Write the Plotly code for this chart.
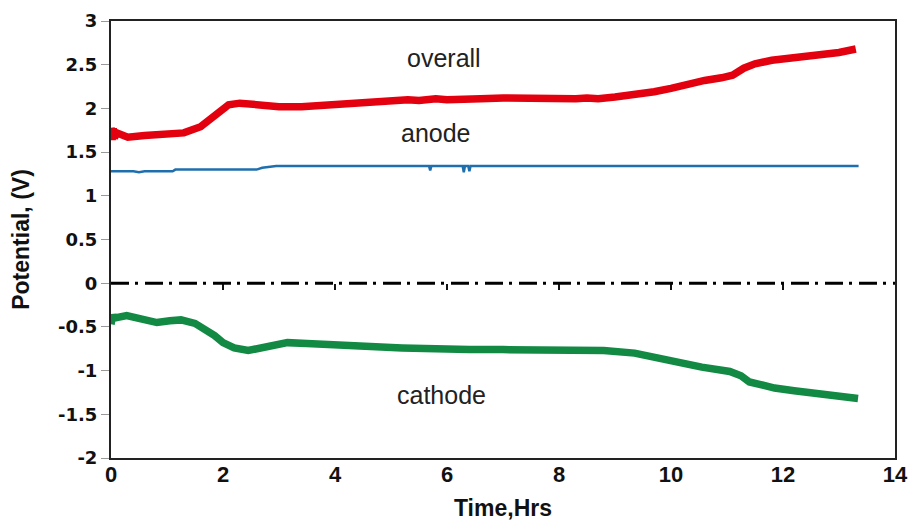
import plotly.graph_objects as go

# Elapsed time (hrs) and potential (V) for each electrode trace
overall_t = [0, 0.02, 0.04, 0.06, 0.1, 0.3, 0.6, 1.0, 1.3, 1.6, 1.9, 2.1, 2.3, 2.6, 3.0, 3.4,
             4.0, 4.6, 5.0, 5.3, 5.5, 5.8, 6.0, 6.2, 6.6, 7.0, 7.5, 8.0, 8.3, 8.5, 8.7,
             9.0, 9.35, 9.7, 10.0, 10.3, 10.6, 10.9, 11.1, 11.3, 11.5, 11.8, 12.1, 12.4, 12.7,
             13.0, 13.3]
overall_v = [1.78, 1.64, 1.77, 1.66, 1.72, 1.67, 1.69, 1.71, 1.72, 1.79, 1.95, 2.04, 2.06, 2.04,
             2.02, 2.02, 2.05, 2.08, 2.08, 2.10, 2.09, 2.11, 2.10, 2.11, 2.11, 2.12, 2.11, 2.10,
             2.11, 2.12, 2.11, 2.13, 2.15, 2.19, 2.23, 2.28, 2.32, 2.35, 2.38, 2.46, 2.51,
             2.55, 2.57, 2.60, 2.61, 2.64, 2.68]

anode_t = [0, 0.4, 0.5, 0.6, 1.1, 1.15, 2.6, 2.7, 2.95, 5.68, 5.7, 5.72, 6.28, 6.3, 6.32,
           6.38, 6.4, 6.42, 13.35]
anode_v = [1.28, 1.28, 1.27, 1.28, 1.28, 1.30, 1.30, 1.32, 1.34, 1.34, 1.29, 1.34, 1.34,
           1.27, 1.34, 1.34, 1.28, 1.34, 1.34]

cathode_t = [0, 0.03, 0.05, 0.28, 0.55, 0.82, 1.05, 1.25, 1.5, 1.7, 1.85, 2.0, 2.2, 2.45, 2.8,
             3.15, 3.5, 4.0, 4.6, 5.2, 5.8, 6.1, 6.4, 7.0, 7.6, 8.2, 8.5, 8.8, 9.35,
             9.7, 9.95, 10.25, 10.55, 10.8, 11.05, 11.25, 11.4, 11.6, 11.85, 12.2, 12.6, 13.0,
             13.34]
cathode_v = [-0.47, -0.36, -0.40, -0.37, -0.41, -0.45, -0.43, -0.42, -0.46, -0.53, -0.60,
             -0.68, -0.74, -0.77, -0.72, -0.68, -0.69, -0.71, -0.72, -0.74, -0.75, -0.76,
             -0.76, -0.76, -0.76, -0.75, -0.77, -0.77, -0.80, -0.84, -0.88,
             -0.92, -0.96, -0.98, -1.01, -1.06, -1.13, -1.16, -1.20, -1.23, -1.26, -1.28,
             -1.32]

# Axis ticks and labels
x_ticks = [0, 2, 4, 6, 8, 10, 12, 14]
x_tick_labels = ["0", "2", "4", "6", "8", "10", "12", "14"]
y_ticks = [-2, -1.5, -1, -0.5, 0, 0.5, 1, 1.5, 2, 2.5, 3]
y_tick_labels = ["-2", "-1.5", "-1", "-0.5", "0", "0.5", "1", "1.5", "2", "2.5", "3"]
zero_axis_ticks = [2, 4, 6, 8, 10, 12]

# Curve labels: (text, time, potential)
curve_labels = [("overall", 5.94, 2.58), ("anode", 5.81, 1.72), ("cathode", 5.90, -1.28)]

zero_level = 0
y_range = [-2, 3]

fig = go.Figure()
fig.add_trace(go.Scatter(x=overall_t, y=overall_v, mode="lines",
                         line=dict(color="#e3000f", width=7.5), name="overall"))
fig.add_trace(go.Scatter(x=anode_t, y=anode_v, mode="lines",
                         line=dict(color="#1f6fae", width=2.5), name="anode"))
fig.add_trace(go.Scatter(x=cathode_t, y=cathode_v, mode="lines",
                         line=dict(color="#128a43", width=7.5), name="cathode"))

# Horizontal axis at zero potential, dash-dot
fig.add_shape(type="line", xref="x domain", x0=0, x1=1, yref="y", y0=zero_level, y1=zero_level,
              line=dict(color="black", width=3, dash="18px,6px,3px,7px"), layer="above")

for text, tx, vy in curve_labels:
    fig.add_annotation(x=tx, y=vy, text=text, showarrow=False,
                       font=dict(family="Liberation Sans, Arial, sans-serif", size=25, color="#222222"))

zero_frac = (zero_level - y_range[0]) / (y_range[1] - y_range[0])

fig.update_layout(
    width=910, height=521,
    margin=dict(l=111, r=15, t=21, b=63),
    paper_bgcolor="white", plot_bgcolor="white",
    showlegend=False,
    xaxis=dict(range=[0, 14], tickvals=x_ticks, ticktext=x_tick_labels,
               showline=True, mirror=True, linecolor="#222222", linewidth=2,
               ticks="", showgrid=False, zeroline=False, automargin=False,
               ticklabelstandoff=-4,
               tickfont=dict(family="Liberation Sans, Arial, sans-serif", size=22,
                             color="#111111", weight="bold"),
               title=dict(text="Time,Hrs", standoff=14,
                          font=dict(family="Liberation Sans, Arial, sans-serif", size=23,
                                    color="#111111", weight="bold"))),
    xaxis2=dict(range=[0, 14], overlaying="x", anchor="free", position=zero_frac, side="bottom",
                tickvals=zero_axis_ticks, ticks="outside", ticklen=6, tickwidth=2,
                tickcolor="#111111", showticklabels=False, showline=False,
                showgrid=False, zeroline=False),
    yaxis=dict(range=y_range, tickvals=y_ticks, ticktext=y_tick_labels,
               showline=True, mirror=True, linecolor="#222222", linewidth=2,
               ticks="outside", ticklen=8, tickwidth=1, tickcolor="#999999",
               showgrid=False, zeroline=False, automargin=False,
               tickfont=dict(family="DejaVu Sans, sans-serif", size=18,
                             color="#111111", weight="bold"),
               title=dict(text="Potential, (V)", standoff=22,
                          font=dict(family="Liberation Sans, Arial, sans-serif", size=23,
                                    color="#111111", weight="bold"))),
)

# Invisible trace to bind the zero-level tick axis
fig.add_trace(go.Scatter(x=[0], y=[zero_level], xaxis="x2", mode="markers",
                         marker=dict(opacity=0), hoverinfo="skip", showlegend=False))

fig.write_html("out.html")
